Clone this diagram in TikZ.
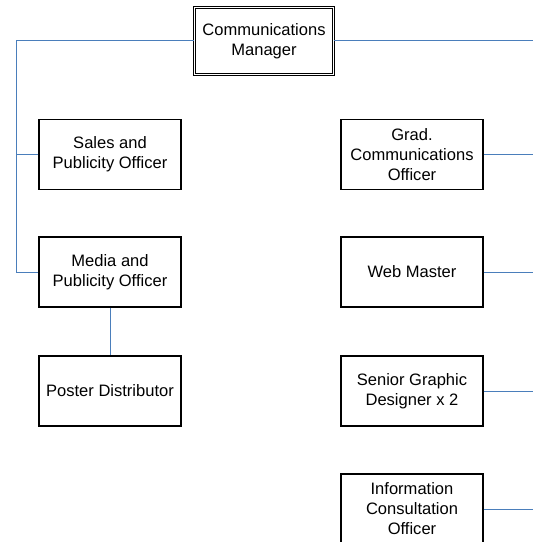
\documentclass[tikz,border=0pt]{standalone}
\usepackage{fontspec}
\setmainfont{Liberation Sans}
\definecolor{conn}{RGB}{74,126,187}
\begin{document}
\begin{tikzpicture}[x=1bp,y=-1bp,
  box/.style={draw=black,line width=1.1bp,rectangle,minimum width=142bp,minimum height=70bp,
    inner sep=0pt,align=center,font=\fontsize{16.6pt}{20pt}\selectfont},
  mgrbox/.style={box,double=white,line width=0.9bp,double distance=1.8bp,minimum width=139bp,minimum height=67bp},
  link/.style={draw=conn,line width=1bp}]
\useasboundingbox (0,0) rectangle (533,542);
\begin{scope}
\clip (0,0) rectangle (533,542);
\node[mgrbox] (mgr) at (264,41) {Communications\\Manager};
\node[box] (sales) at (110,154.5) {Sales and\\Publicity Officer};
\node[box] (media) at (110,272) {Media and\\Publicity Officer};
\node[box] (poster) at (110,391) {Poster Distributor};
\node[box] (grad) at (412,154.5) {Grad.\\Communications\\Officer};
\node[box] (web) at (412,272) {Web Master};
\node[box] (senior) at (412,391) {Senior Graphic\\Designer x 2};
\node[box] (info) at (412,509) {Information\\Consultation\\Officer};
\coordinate (lb) at (16,41);
\coordinate (rb) at (534,41);
\draw[link] (mgr.west) -- (lb) |- (media.west);
\draw[link] (sales.west) -- (sales.west -| lb);
\draw[link] (media.south) -- (poster.north);
\draw[link] (mgr.east) -- (rb);
\draw[link] (grad.east) -- (grad.east -| rb);
\draw[link] (web.east) -- (web.east -| rb);
\draw[link] (senior.east) -- (senior.east -| rb);
\draw[link] (info.east) -- (info.east -| rb);
\end{scope}
\end{tikzpicture}
\end{document}
